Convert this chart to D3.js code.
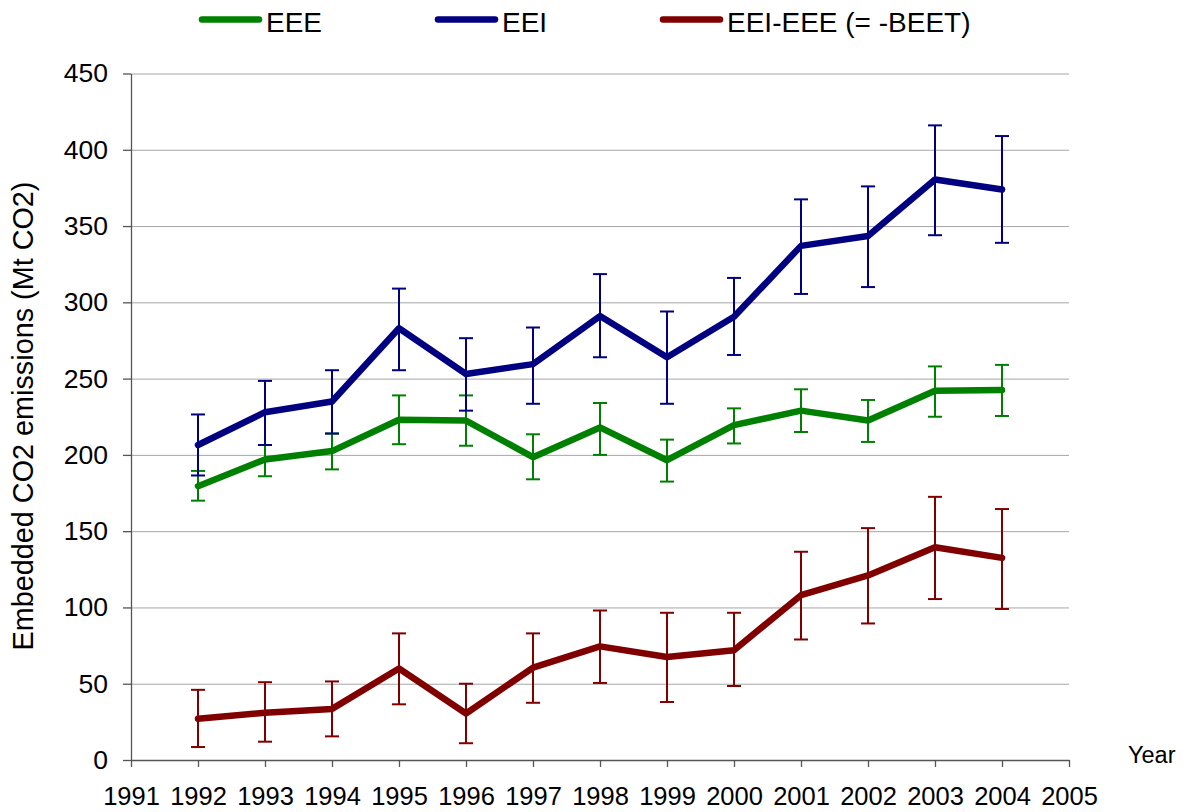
<!DOCTYPE html>
<html>
<head>
<meta charset="utf-8">
<script src="https://cdn.jsdelivr.net/npm/d3@7"></script>
<style>
  html, body { margin: 0; padding: 0; background: #fff; }
  svg text { font-family: "Liberation Sans", Arial, sans-serif; fill: #000; }
</style>
</head>
<body>
<div id="chart"></div>
<script>
const years = [1992, 1993, 1994, 1995, 1996, 1997, 1998, 1999, 2000, 2001, 2002, 2003, 2004]

// EEE
const eee     = [179.5, 197, 202.5, 223, 222.5, 198.5, 218, 196.5, 219.5, 229, 222.5, 242, 242.5]
const eeeHigh = [189.5, 206.5, 214, 239, 239, 213.5, 234, 210, 230.5, 243, 236, 258, 259]
const eeeLow  = [170, 186, 190.5, 207, 206, 184, 200, 182.5, 207.5, 215, 208.5, 225, 225.5]

// EEI
const eei     = [206.5, 228, 235, 283, 253, 259.5, 291, 264, 290.5, 337, 343.5, 380.5, 374]
const eeiHigh = [226.5, 248.5, 255.5, 309, 276.5, 283.5, 318.5, 294, 316, 367.5, 376, 416, 409]
const eeiLow  = [186.5, 206.5, 214, 255.5, 229, 233.5, 264, 233.5, 265.5, 305.5, 310, 344, 339]

// EEI-EEE (= -BEET)
const diff     = [27, 31, 33.5, 60, 30.5, 60.5, 74.5, 67.5, 72, 108, 121, 139.5, 132.5]
const diffHigh = [46, 51, 51.5, 83, 50, 83, 98, 96.5, 96.5, 136.5, 152, 172.5, 164.5]
const diffLow  = [8.5, 12, 15.5, 36.5, 11, 37.5, 50.5, 38, 48.5, 79, 89.5, 105.5, 99]

const xTicks = d3.range(1991, 2006)
const yTicks = [0, 50, 100, 150, 200, 250, 300, 350, 400, 450]

const seriesNames = ["EEE", "EEI", "EEI-EEE (= -BEET)"]
const seriesColors = ["#008000", "#000080", "#800000"]

const width = 1188,
    height = 812,
    plotLeft = 131,
    plotRight = 1069,
    plotTop = 73.5,
    plotBottom = 760;

const x = d3.scaleLinear().domain([1991, 2005]).range([plotLeft, plotRight])
const y = d3.scaleLinear().domain([0, 450]).range([plotBottom, plotTop])

const svg = d3.select("#chart")
    .append("svg")
    .attr("width", width)
    .attr("height", height)

// gridlines
svg.append("g")
    .attr("transform", `translate(${plotLeft}, 0)`)
    .call(d3.axisLeft(y).tickValues(yTicks.filter(d => d > 0)).tickSize(-(plotRight - plotLeft)).tickFormat(""))
    .call(g => g.select(".domain").remove())
    .call(g => g.selectAll("line").attr("stroke", "#a6a6a6").attr("stroke-width", 1))

// y axis
svg.append("g")
    .attr("transform", `translate(${plotLeft}, 0)`)
    .call(d3.axisLeft(y).tickValues(yTicks).tickSize(8).tickPadding(15).tickSizeOuter(0))
    .call(g => g.select(".domain").attr("stroke", "#555").attr("stroke-width", 1.3))
    .call(g => g.selectAll(".tick line").attr("stroke", "#555").attr("stroke-width", 1.3))
    .call(g => g.selectAll(".tick text")
        .attr("font-size", 26.5)
        .attr("font-family", "Liberation Sans, Arial, sans-serif")
        .attr("fill", "#000"))

// x axis
svg.append("g")
    .attr("transform", `translate(0, ${plotBottom})`)
    .call(d3.axisBottom(x).tickValues(xTicks).tickSize(7).tickPadding(20).tickSizeOuter(0).tickFormat(d3.format("d")))
    .call(g => g.select(".domain").attr("stroke", "#555").attr("stroke-width", 1.3))
    .call(g => g.selectAll(".tick line").attr("stroke", "#555").attr("stroke-width", 1.3))
    .call(g => g.selectAll(".tick text")
        .attr("font-size", 25.5)
        .attr("font-family", "Liberation Sans, Arial, sans-serif")
        .attr("fill", "#000"))

// axis titles
svg.append("text")
    .attr("transform", `translate(33, 416) rotate(-90)`)
    .attr("text-anchor", "middle")
    .attr("font-size", 28.8)
    .text("Embedded CO2 emissions (Mt CO2)")

svg.append("text")
    .attr("x", 1128)
    .attr("y", 763)
    .attr("font-size", 23.5)
    .text("Year")

// series
const allSeries = [
    { values: eee, high: eeeHigh, low: eeeLow },
    { values: eei, high: eeiHigh, low: eeiLow },
    { values: diff, high: diffHigh, low: diffLow }
]

const line = d3.line()
    .x(d => x(d.year))
    .y(d => y(d.value))

const capHalf = 7

allSeries.forEach((s, si) => {
    const color = seriesColors[si]
    const pts = years.map((yr, i) => ({ year: yr, value: s.values[i], high: s.high[i], low: s.low[i] }))

    const eb = svg.append("g").attr("stroke", color).attr("stroke-width", 2).attr("fill", "none")

    eb.selectAll(".bar")
        .data(pts)
        .enter()
        .append("line")
        .attr("x1", d => x(d.year))
        .attr("x2", d => x(d.year))
        .attr("y1", d => y(d.high))
        .attr("y2", d => y(d.low))

    eb.selectAll(".capHigh")
        .data(pts)
        .enter()
        .append("line")
        .attr("x1", d => x(d.year) - capHalf)
        .attr("x2", d => x(d.year) + capHalf)
        .attr("y1", d => y(d.high))
        .attr("y2", d => y(d.high))

    eb.selectAll(".capLow")
        .data(pts)
        .enter()
        .append("line")
        .attr("x1", d => x(d.year) - capHalf)
        .attr("x2", d => x(d.year) + capHalf)
        .attr("y1", d => y(d.low))
        .attr("y2", d => y(d.low))

    svg.append("path")
        .datum(pts)
        .attr("fill", "none")
        .attr("stroke", color)
        .attr("stroke-width", 6.5)
        .attr("stroke-linecap", "round")
        .attr("stroke-linejoin", "round")
        .attr("d", line)
})

// legend
const legendX = [202, 438, 663]
const legend = svg.append("g")
seriesNames.forEach((name, i) => {
    legend.append("line")
        .attr("x1", legendX[i])
        .attr("x2", legendX[i] + 57)
        .attr("y1", 19.5)
        .attr("y2", 19.5)
        .attr("stroke", seriesColors[i])
        .attr("stroke-width", 6.5)
        .attr("stroke-linecap", "round")
    legend.append("text")
        .attr("x", legendX[i] + 64)
        .attr("y", 31.5)
        .attr("font-size", 28)
        .text(name)
})
</script>
</body>
</html>
